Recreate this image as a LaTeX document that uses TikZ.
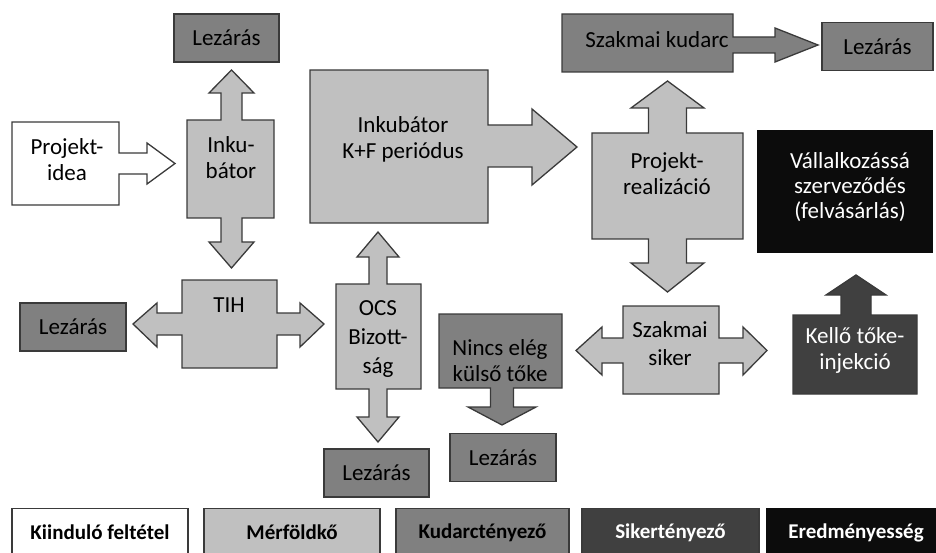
\documentclass[tikz,border=0pt]{standalone}
\usepackage{fontspec}
\setmainfont{Carlito}
\definecolor{cMile}{HTML}{C0C0C0}
\definecolor{cFail}{HTML}{808080}
\definecolor{cSucc}{HTML}{404040}
\definecolor{cRes}{HTML}{0C0C0C}
\definecolor{cLine}{HTML}{3A3A3A}
\begin{document}
\begin{tikzpicture}[x=1pt,y=-1pt,
  shp/.style={draw=cLine, line width=1.3pt, line join=miter},
  milestone/.style={shp, fill=cMile},
  failure/.style={shp, fill=cFail},
  success/.style={shp, fill=cSucc},
  startshape/.style={shp, fill=white},
  txt/.style={font=\fontsize{23}{26}\selectfont, align=center, inner sep=0pt, text=black},
  wtxt/.style={txt, text=white},
  failbox/.style={failure, txt, minimum width=#1, minimum height=48pt},
  legbox/.style={shp, font=\bfseries\fontsize{21}{24}\selectfont, inner sep=0pt,
     minimum width=#1, minimum height=48pt, anchor=north}
]
\useasboundingbox (0,0) rectangle (936,553);
\clip (0,0) rectangle (936,553);

% ---------- Projekt-idea (right arrow callout)
\draw[startshape] (12,122) -- (119,122) -- (119,153) -- (147,153) -- (147,143) -- (175,163.5)
  -- (147,184) -- (147,174) -- (119,174) -- (119,205) -- (12,205) -- cycle;
\node[txt] (idea) at (67,160) {Projekt-\\idea};

% ---------- Inkubátor (up-down arrow callout)
\draw[milestone] (187,120) -- (221,120) -- (221,93) -- (209,93) -- (231.5,70) -- (254,93)
  -- (242,93) -- (242,120) -- (274,120) -- (274,218) -- (242,218) -- (242,242) -- (254,242)
  -- (231.5,268) -- (209,242) -- (221,242) -- (221,218) -- (187,218) -- cycle;
\node[txt] (inkub) at (231,158) {Inku-\\bátor};
\node[failbox=105pt] (lz1) at (226.5,38) {Lezárás};

% ---------- Inkubátor K+F periódus (right arrow callout)
\draw[milestone] (310,70) -- (488,70) -- (488,125) -- (532,125) -- (532,109) -- (577,147)
  -- (532,185) -- (532,167) -- (488,167) -- (488,223) -- (310,223) -- cycle;
\node[txt] (kf) at (403,139) {Inkubátor\\K+F periódus};

% ---------- TIH (left-right arrow callout)
\draw[milestone] (182,280) -- (277,280) -- (277,313) -- (300,313) -- (300,303) -- (324,324)
  -- (300,347) -- (300,335) -- (277,335) -- (277,368) -- (182,368) -- (182,335) -- (157,335)
  -- (157,347) -- (133,324) -- (157,303) -- (157,313) -- (182,313) -- cycle;
\node[txt] (tih) at (229,305) {TIH};
\node[failbox=106pt] (lz2) at (73,327) {Lezárás};

% ---------- OCS Bizottság (up-down arrow callout)
\draw[milestone] (336,284) -- (369,284) -- (369,257) -- (357,257) -- (378,232) -- (399,257)
  -- (387,257) -- (387,284) -- (421,284) -- (421,389) -- (387,389) -- (387,417) -- (399,417)
  -- (378,442) -- (357,417) -- (369,417) -- (369,389) -- (336,389) -- cycle;
\node[txt, font=\fontsize{23}{29}\selectfont] (ocs) at (378,339) {OCS\\Bizott-\\ság};
\node[failbox=105pt] (lz3) at (376.5,473) {Lezárás};

% ---------- Nincs elég külső tőke (down arrow callout)
\draw[failure] (439,314) -- (562,314) -- (562,388) -- (513.5,388) -- (513.5,407) -- (536,407)
  -- (502,425) -- (468,407) -- (490.5,407) -- (490.5,388) -- (439,388) -- cycle;
\node[txt] (nincs) at (500,361) {Nincs elég\\külső tőke};
\node[failbox=106pt] (lz4) at (503,457.5) {Lezárás};

% ---------- Szakmai kudarc (right arrow callout)
\draw[failure] (562,14) -- (733,14) -- (733,37) -- (775,37) -- (775,28) -- (818,45)
  -- (775,62) -- (775,53) -- (733,53) -- (733,72) -- (562,72) -- cycle;
\node[txt] (kudarc) at (657,40) {Szakmai kudarc};
\node[failbox=111pt] (lz5) at (877.5,46.5) {Lezárás};

% ---------- Projekt-realizáció (up-down arrow callout)
\draw[milestone] (592,133) -- (648.5,133) -- (648.5,108) -- (631,108) -- (667.5,81) -- (704,108)
  -- (686.5,108) -- (686.5,133) -- (743,133) -- (743,239) -- (686.5,239) -- (686.5,263)
  -- (704,263) -- (667.5,292) -- (631,263) -- (648.5,263) -- (648.5,239) -- (592,239) -- cycle;
\node[txt] (real) at (667,174) {Projekt-\\realizáció};

% ---------- Vállalkozássá szerveződés
\node[shp, draw=cRes, fill=cRes, minimum width=174pt, minimum height=121pt] (vall) at (845,191.5) {};
\node[wtxt, font=\fontsize{23}{25}\selectfont] (valltxt) at (850,187) {Vállalkozássá\\szerveződés\\(felvásárlás)};

% ---------- Szakmai siker (left-right arrow callout)
\draw[milestone] (623,306) -- (719,306) -- (719,338) -- (743,338) -- (743,327) -- (767,350.5)
  -- (743,375) -- (743,363) -- (719,363) -- (719,394) -- (623,394) -- (623,363) -- (602,363)
  -- (602,375) -- (576,350.5) -- (602,327) -- (602,338) -- (623,338) -- cycle;
\node[txt, font=\fontsize{23}{28}\selectfont] (siker) at (670,344) {Szakmai\\siker};

% ---------- Kellő tőke-injekció (up arrow callout)
\draw[success] (793,315) -- (841,315) -- (841,295) -- (826,295) -- (856,275) -- (886,295)
  -- (871,295) -- (871,315) -- (917,315) -- (917,394) -- (793,394) -- cycle;
\node[wtxt] (kello) at (855,350) {Kellő tőke-\\injekció};

% ---------- Legend
\node[legbox=176pt, fill=white] (l1) at (100,508) {Kiinduló feltétel};
\node[legbox=176pt, fill=cMile] (l2) at (292,508) {Mérföldkő};
\node[legbox=173pt, fill=cFail] (l3) at (482.5,508) {Kudarctényező};
\node[legbox=177pt, fill=cSucc, text=white] (l4) at (670.5,508) {Sikertényező};
\node[legbox=178pt, fill=cRes, draw=cRes, text=white] (l5) at (856,508) {Eredményesség};
\end{tikzpicture}
\end{document}
